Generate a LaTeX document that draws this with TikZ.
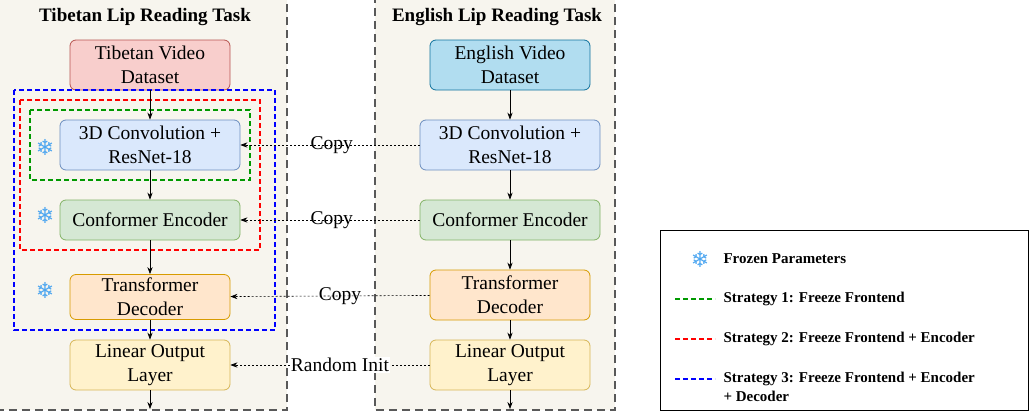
\documentclass[tikz,border=0pt]{standalone}
\usepackage{fontspec}
\setmainfont{Liberation Serif}
\newfontfamily\symfont{DejaVu Sans}
\usetikzlibrary{positioning, arrows.meta}
\definecolor{panelbg}{HTML}{F7F5EE}
\definecolor{snowc}{HTML}{4DA6F0}
\definecolor{redf}{HTML}{F8CECC}\definecolor{redd}{HTML}{B85450}
\definecolor{bluef}{HTML}{DAE8FC}\definecolor{blued}{HTML}{6C8EBF}
\definecolor{greenf}{HTML}{D5E8D4}\definecolor{greend}{HTML}{82B366}
\definecolor{orangef}{HTML}{FFE6CC}\definecolor{oranged}{HTML}{D79B00}
\definecolor{yellowf}{HTML}{FFF2CC}\definecolor{yellowd}{HTML}{D6B656}
\definecolor{cyanf}{HTML}{B1DDF0}\definecolor{cyand}{HTML}{10739E}
\tikzset{
  panel/.style={draw=black!65, dashed, dash pattern=on 8pt off 5pt, line width=1.2pt, fill=panelbg},
  blk/.style={draw, rounded corners=6pt, align=center, line width=0.8pt, font=\fontsize{19.5}{24}\selectfont},
  flow/.style={-{Stealth[length=7pt]}, line width=0.7pt},
  copyline/.style={-{Stealth[length=7pt]}, dashed, dash pattern=on 2pt off 2pt, line width=0.6pt},
  strat/.style={dashed, dash pattern=on 5pt off 3pt, line width=1.4pt},
  snow/.style={text=snowc, font=\symfont\fontsize{22}{22}\selectfont},
  lbl/.style={inner sep=1pt, font=\fontsize{19.5}{24}\selectfont},
  leg/.style={anchor=west, font=\bfseries\fontsize{15}{18.5}\selectfont, align=left}
}
\begin{document}
\begin{tikzpicture}[x=1pt, y=-1pt]
\useasboundingbox (0,0) rectangle (1033,415);
% panels
\draw[panel] (-5,-5) rectangle (287,410);
\draw[panel] (375,-5) rectangle (615,410);
\node[font=\bfseries\fontsize{19}{22}\selectfont] (tibtitle) at (145,17) {Tibetan Lip Reading Task};
\node[font=\bfseries\fontsize{19}{22}\selectfont] (engtitle) at (497,17) {English Lip Reading Task};
% Tibetan side
\node[blk, draw=redd, fill=redf, minimum width=160pt, minimum height=50pt] (tdata) at (150,65) {Tibetan Video\\Dataset};
\node[blk, draw=blued, fill=bluef, minimum width=180pt, minimum height=50pt] (tconv) at (150,145) {3D Convolution +\\ResNet-18};
\node[blk, draw=greend, fill=greenf, minimum width=180pt, minimum height=40pt] (tenc) at (150,220) {Conformer Encoder};
\node[blk, draw=oranged, fill=orangef, minimum width=160pt, minimum height=45pt] (tdec) at (150,297) {Transformer\\Decoder};
\node[blk, draw=yellowd, fill=yellowf, minimum width=160pt, minimum height=50pt] (tlin) at (150,365) {Linear Output\\Layer};
\coordinate (tout) at (150,409);
% English side
\node[blk, draw=cyand, fill=cyanf, minimum width=160pt, minimum height=50pt] (edata) at (510,65) {English Video\\Dataset};
\node[blk, draw=blued, fill=bluef, minimum width=180pt, minimum height=50pt] (econv) at (510,145) {3D Convolution +\\ResNet-18};
\node[blk, draw=greend, fill=greenf, minimum width=180pt, minimum height=40pt] (eenc) at (510,220) {Conformer Encoder};
\node[blk, draw=oranged, fill=orangef, minimum width=160pt, minimum height=50pt] (edec) at (510,295) {Transformer\\Decoder};
\node[blk, draw=yellowd, fill=yellowf, minimum width=160pt, minimum height=50pt] (elin) at (510,365) {Linear Output\\Layer};
\coordinate (eout) at (510,409);
% strategy frames
\draw[strat, green!60!black] (30,110) rectangle (250,180);
\draw[strat, red] (20,100) rectangle (260,250);
\draw[strat, blue] (14,90) rectangle (275,330);
% snowflakes
\node[snow] (sf1) at (45,147) {❄};
\node[snow] (sf2) at (45,215) {❄};
\node[snow] (sf3) at (45,290) {❄};
% flows
\draw[flow] (tdata) -- (tconv);
\draw[flow] (tconv) -- (tenc);
\draw[flow] (tenc) -- (tdec);
\draw[flow] (tdec) -- (tlin);
\draw[flow] (tlin) -- (tout);
\draw[flow] (edata) -- (econv);
\draw[flow] (econv) -- (eenc);
\draw[flow] (eenc) -- (edec);
\draw[flow] (edec) -- (elin);
\draw[flow] (elin) -- (eout);
% transfer
\draw[copyline] (econv) -- node[lbl, pos=0.49] {Copy} (tconv);
\draw[copyline] (eenc) -- node[lbl, pos=0.49] {Copy} (tenc);
\draw[copyline] (edec) -- node[lbl, pos=0.45] {Copy} (tdec);
\draw[copyline] (elin) -- node[lbl, fill=white, pos=0.45] {Random Init} (tlin);
% legend
\draw[line width=0.8pt] (660,230) rectangle (1028,410);
\node[snow] (lsnow) at (700,259) {❄};
\node[leg] (l0) at (720,259) {Frozen Parameters};
\coordinate (g1) at (675,299); \coordinate (g2) at (715,299);
\draw[strat, line width=1.2pt, green!60!black] (g1) -- (g2);
\node[leg] (l1) at (720,299) {Strategy 1: Freeze Frontend};
\coordinate (r1) at (675,339); \coordinate (r2) at (715,339);
\draw[strat, line width=1.2pt, red] (r1) -- (r2);
\node[leg] (l2) at (720,339) {Strategy 2: Freeze Frontend + Encoder};
\coordinate (b1) at (675,379); \coordinate (b2) at (715,379);
\draw[strat, line width=1.2pt, blue] (b1) -- (b2);
\node[leg, anchor=north west] (l3) at (720,369) {Strategy 3: Freeze Frontend + Encoder\\+ Decoder};
\end{tikzpicture}
\end{document}
